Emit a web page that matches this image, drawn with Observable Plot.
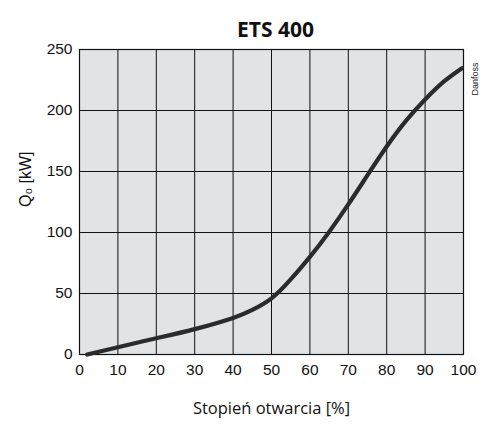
<!DOCTYPE html>
<html><head><meta charset="utf-8">
<script src="https://cdn.jsdelivr.net/npm/d3@7"></script>
<script src="https://cdn.jsdelivr.net/npm/@observablehq/plot@0.6"></script>
<style>body{margin:0;background:#fff}</style>
</head><body><div id="chart"></div>
<script>
const title = "ETS 400";
const xLabel = "Stopień otwarcia [%]";
const yLabel = "Q₀ [kW]";
const brand = "Danfoss";
const xTicks = [0,10,20,30,40,50,60,70,80,90,100];
const yTicks = [0,50,100,150,200,250];
const opening = [2,10,20,30,40,45,50,55,60,65,70,75,80,85,90,95,99.6];
const power   = [0,6,13.3,20.8,30,36.5,46,61.5,80,100.5,123,147,170.5,191.5,209,224,234.7];
const data = opening.map((x,i)=>({x, y: power[i]}));
const sans = "'Liberation Sans', Arial, sans-serif";
const humanist = "'Open Sans', sans-serif";

const chart = Plot.plot({
  width: 480, height: 428,
  marginLeft: 79, marginRight: 17, marginTop: 49, marginBottom: 74,
  style: {fontFamily: sans, fontSize: "15px", color: "#111", background: "#fff", overflow: "visible"},
  x: {domain: [0,100], ticks: xTicks, label: null},
  y: {domain: [0,250], ticks: yTicks, label: null},
  marks: [
    Plot.frame({fill: "#e2e3e5", stroke: "none"}),
    Plot.gridX(xTicks, {stroke: "#111", strokeOpacity: 1, strokeWidth: 1}),
    Plot.gridY(yTicks, {stroke: "#111", strokeOpacity: 1, strokeWidth: 1}),
    Plot.frame({stroke: "#111", strokeWidth: 1.2}),
    Plot.line(data, {x: "x", y: "y", curve: "natural", stroke: "#2b2b2b", strokeWidth: 4.2, strokeLinecap: "round"}),
    Plot.axisX(xTicks, {tickSize: 0, tickPadding: 9, fontSize: 15.5, fontFamily: sans, fill: "#111"}),
    Plot.axisY(yTicks, {tickSize: 0, tickPadding: 7, fontSize: 15.5, fontFamily: sans, fill: "#111"}),
    Plot.text([title], {frameAnchor: "top", dx: 4, dy: -27, fontFamily: humanist, fontWeight: "bold", fontSize: 21, fill: "#111"}),
    Plot.text([xLabel], {frameAnchor: "bottom", dy: 59, fontFamily: humanist, fontSize: 16.5, fill: "#111"}),
    Plot.text([yLabel], {frameAnchor: "left", dx: -54, dy: 5, rotate: -90, fontFamily: sans, fontSize: 16, fill: "#111"}),
    Plot.text([brand], {frameAnchor: "top-right", dx: 8, dy: 46, rotate: -90, textAnchor: "start", fontFamily: sans, fontSize: 9, fill: "#222"})
  ]
});
document.getElementById("chart").appendChild(chart);
</script>
</body></html>
